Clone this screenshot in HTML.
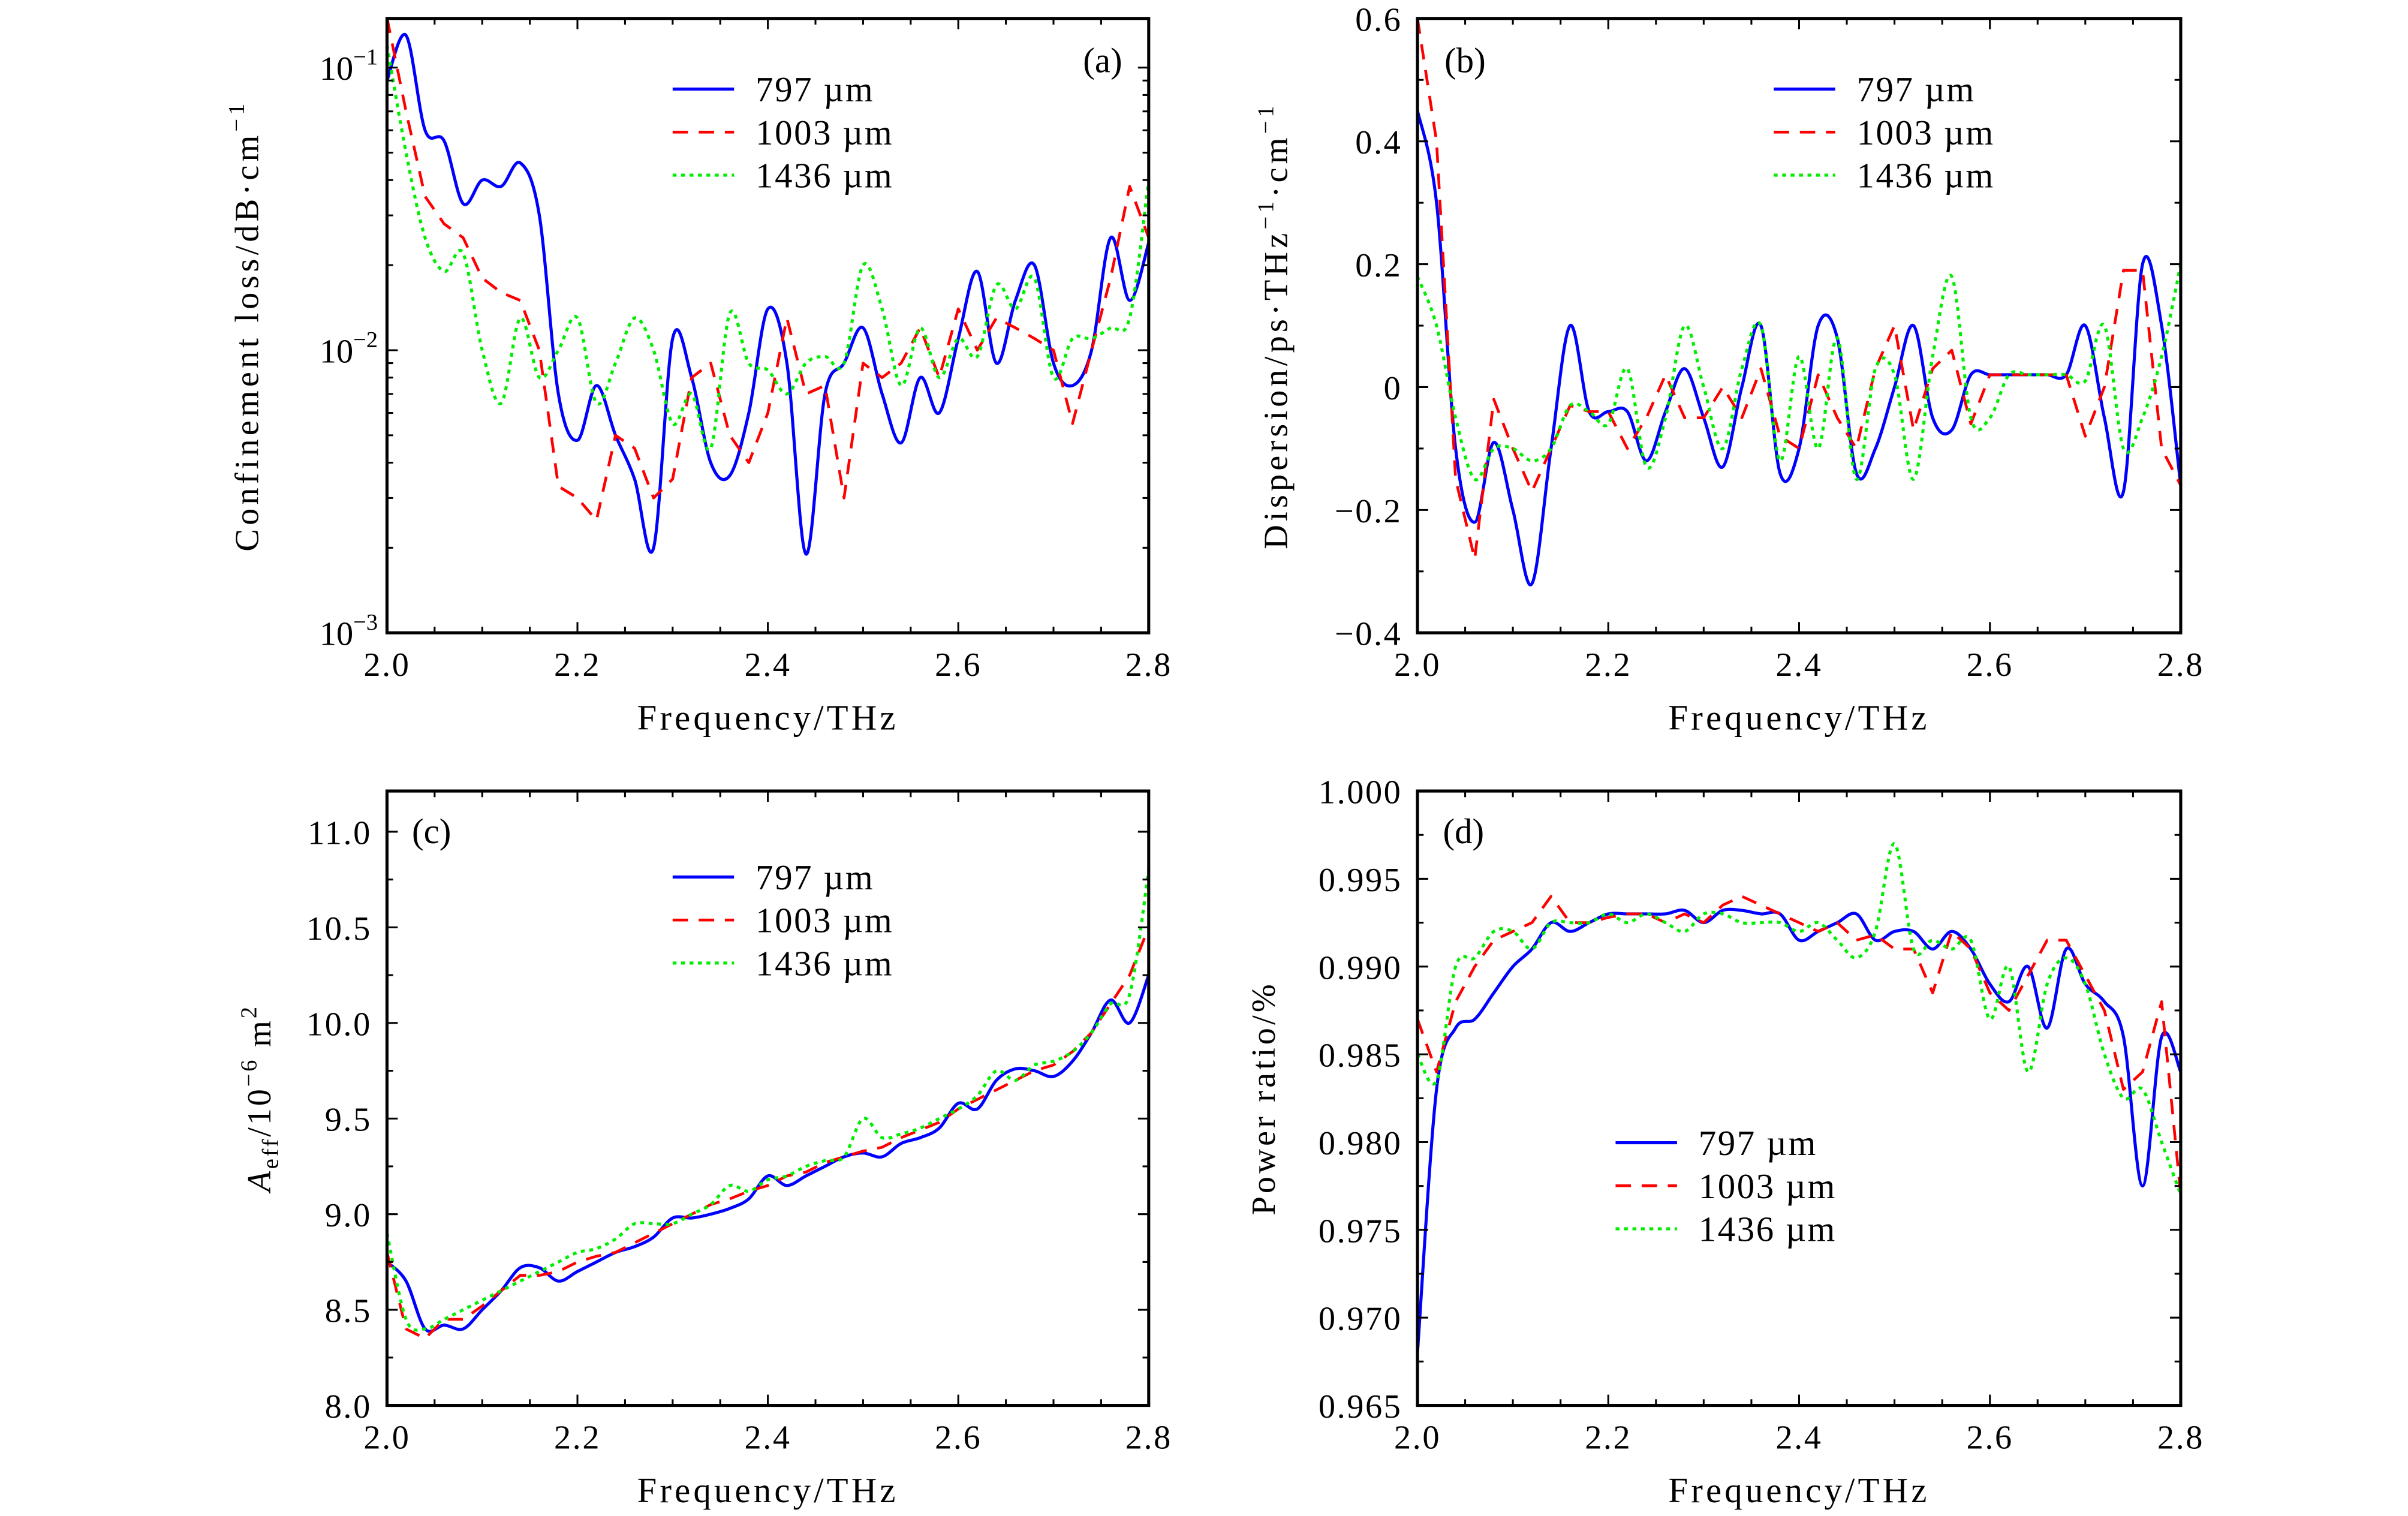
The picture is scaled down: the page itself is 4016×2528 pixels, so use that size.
<!DOCTYPE html>
<html><head><meta charset="utf-8">
<style>
html,body{margin:0;padding:0;background:#fff;}
svg{display:block;font-family:"Liberation Serif","DejaVu Serif",serif;}
</style></head>
<body>
<svg id="fig" xmlns="http://www.w3.org/2000/svg" width="4016" height="2528" viewBox="0 0 1568 987"></svg>
<script>
const freqs = [2.00,2.02,2.04,2.06,2.08,2.10,2.12,2.14,2.16,2.18,2.20,2.22,2.24,2.26,2.28,2.30,2.32,2.34,2.36,2.38,2.40,2.42,2.44,2.46,2.48,2.50,2.52,2.54,2.56,2.58,2.60,2.62,2.64,2.66,2.68,2.70,2.72,2.74,2.76,2.78,2.80];
const seriesNames = ["797 µm","1003 µm","1436 µm"];
const xTicks = [2.0,2.2,2.4,2.6,2.8];
const lossBlue = [0.09,0.13,0.06,0.055,0.033,0.04,0.038,0.046,0.03,0.007,0.0048,0.0075,0.005,0.0035,0.002,0.011,0.008,0.004,0.0036,0.006,0.014,0.009,0.0019,0.007,0.009,0.012,0.007,0.0047,0.008,0.006,0.011,0.019,0.009,0.015,0.02,0.009,0.0075,0.01,0.025,0.015,0.024];
const lossRed = [0.15,0.07,0.035,0.028,0.025,0.018,0.016,0.015,0.01,0.0033,0.003,0.0025,0.005,0.0045,0.003,0.0035,0.008,0.009,0.005,0.004,0.006,0.013,0.007,0.0075,0.003,0.009,0.008,0.009,0.012,0.008,0.014,0.01,0.013,0.012,0.011,0.01,0.0055,0.01,0.018,0.038,0.025];
const lossGreen = [0.12,0.05,0.025,0.019,0.022,0.01,0.0065,0.013,0.008,0.01,0.013,0.0065,0.009,0.013,0.01,0.0055,0.007,0.0045,0.0135,0.009,0.0085,0.007,0.009,0.0095,0.009,0.02,0.014,0.0075,0.012,0.008,0.011,0.0095,0.017,0.014,0.018,0.008,0.011,0.011,0.012,0.013,0.04];
const dispBlue = [0.45,0.3,-0.1,-0.22,-0.09,-0.2,-0.32,-0.1,0.1,-0.04,-0.04,-0.04,-0.12,-0.04,0.03,-0.05,-0.13,0.0,0.1,-0.14,-0.1,0.1,0.08,-0.14,-0.1,0.0,0.1,-0.05,-0.07,0.02,0.02,0.02,0.02,0.02,0.02,0.1,-0.05,-0.17,0.2,0.1,-0.16];
const dispRed = [0.6,0.4,-0.15,-0.28,-0.02,-0.1,-0.17,-0.1,-0.03,-0.04,-0.04,-0.1,-0.05,0.02,-0.05,-0.05,0.0,-0.05,0.03,-0.08,-0.1,0.02,-0.05,-0.1,0.03,0.1,-0.07,0.03,0.06,-0.06,0.02,0.02,0.02,0.02,0.02,-0.08,0.0,0.19,0.19,-0.1,-0.16];
const dispGreen = [0.18,0.1,-0.05,-0.15,-0.1,-0.1,-0.12,-0.1,-0.03,-0.04,-0.06,0.03,-0.13,-0.05,0.1,0.0,-0.1,0.03,0.1,-0.12,0.05,-0.1,0.08,-0.15,0.03,0.02,-0.15,0.05,0.18,-0.05,-0.05,0.02,0.02,0.02,0.02,0.01,0.1,-0.1,-0.05,0.05,0.2];
const aeffBlue = [8.75,8.65,8.4,8.42,8.4,8.5,8.6,8.72,8.72,8.65,8.7,8.75,8.8,8.83,8.88,8.98,8.98,9.0,9.03,9.08,9.2,9.15,9.2,9.25,9.3,9.32,9.3,9.37,9.4,9.45,9.58,9.55,9.7,9.76,9.75,9.72,9.8,9.95,10.12,10.0,10.25];
const aeffRed = [8.8,8.4,8.35,8.45,8.45,8.52,8.6,8.68,8.68,8.7,8.75,8.78,8.8,8.85,8.9,8.95,9.0,9.05,9.08,9.12,9.15,9.2,9.22,9.27,9.3,9.33,9.35,9.4,9.44,9.48,9.55,9.6,9.65,9.7,9.75,9.78,9.85,9.95,10.1,10.25,10.5];
const aeffGreen = [8.9,8.45,8.4,8.45,8.5,8.55,8.6,8.65,8.7,8.75,8.8,8.82,8.87,8.95,8.95,8.95,9.0,9.05,9.15,9.12,9.18,9.2,9.25,9.28,9.3,9.5,9.4,9.42,9.45,9.5,9.55,9.62,9.75,9.7,9.78,9.8,9.85,9.95,10.1,10.15,10.8];
const powBlue = [0.968,0.983,0.9865,0.987,0.9885,0.990,0.991,0.9925,0.992,0.9925,0.993,0.993,0.993,0.993,0.9932,0.9925,0.9932,0.9932,0.993,0.993,0.9915,0.992,0.9925,0.993,0.9915,0.992,0.992,0.991,0.992,0.991,0.989,0.988,0.990,0.9865,0.991,0.989,0.988,0.986,0.9775,0.986,0.984];
const powRed = [0.987,0.984,0.988,0.990,0.9915,0.992,0.9925,0.994,0.9925,0.9925,0.9928,0.993,0.993,0.9925,0.993,0.9925,0.9935,0.994,0.9935,0.993,0.9925,0.992,0.9925,0.9915,0.9918,0.991,0.991,0.9885,0.992,0.991,0.9885,0.9875,0.9895,0.9915,0.9915,0.9895,0.9875,0.983,0.984,0.988,0.977];
const powGreen = [0.985,0.9835,0.990,0.9905,0.992,0.992,0.991,0.9925,0.9925,0.9925,0.993,0.9925,0.993,0.9925,0.992,0.993,0.993,0.9925,0.9925,0.9925,0.992,0.9925,0.9915,0.9905,0.992,0.997,0.991,0.9915,0.991,0.9915,0.987,0.990,0.984,0.989,0.9905,0.989,0.985,0.9825,0.983,0.980,0.977];
const dispTicks = [-0.4,-0.2,0,0.2,0.4,0.6];
const dispTickLabels = ["\u22120.4","\u22120.2","0","0.2","0.4","0.6"];
const aeffTicks = [8.0,8.5,9.0,9.5,10.0,10.5,11.0];
const powTicks = [0.965,0.970,0.975,0.980,0.985,0.990,0.995,1.000];

const NS="http://www.w3.org/2000/svg";
const svg=document.getElementById('fig');
function mk(tag,attrs,parent){const e=document.createElementNS(NS,tag);for(const k in attrs)e.setAttribute(k,attrs[k]);(parent||svg).appendChild(e);return e;}
function txt(s,attrs,parent){const e=mk('text',attrs,parent);e.textContent=s;return e;}

function smoothPath(pts){
  let d='M'+pts[0][0].toFixed(2)+','+pts[0][1].toFixed(2);
  for(let i=0;i<pts.length-1;i++){
    const p0=pts[Math.max(0,i-1)],p1=pts[i],p2=pts[i+1],p3=pts[Math.min(pts.length-1,i+2)];
    const c1=[p1[0]+(p2[0]-p0[0])/6,p1[1]+(p2[1]-p0[1])/6];
    const c2=[p2[0]-(p3[0]-p1[0])/6,p2[1]-(p3[1]-p1[1])/6];
    d+='C'+c1[0].toFixed(2)+','+c1[1].toFixed(2)+' '+c2[0].toFixed(2)+','+c2[1].toFixed(2)+' '+p2[0].toFixed(2)+','+p2[1].toFixed(2);
  }
  return d;
}

function panel(cfg){
  const g=mk('g',{});
  
  
  const L=cfg.x0,R=cfg.x1,T=cfg.y0,B=cfg.y1;
  const xs=v=>L+(v-2.0)/(0.8)*(R-L);
  const ys=v=>{const t=cfg.log?Math.log10(v):v;return B-(t-cfg.ymin)/(cfg.ymax-cfg.ymin)*(B-T);};
  const clip='clip-'+cfg.name;
  const cp=mk('clipPath',{id:clip},g);mk('rect',{x:L,y:T,width:R-L,height:B-T},cp);
  const styles=[
    {stroke:'#0000ff',w:2,dash:'',smooth:true,name:'series-797'},
    {stroke:'#ff0000',w:1.8,dash:'10,7',smooth:false,name:'series-1003'},
    {stroke:'#00ee00',w:2,dash:'2.5,3',smooth:true,name:'series-1436'}];
  const sg=mk('g',{'clip-path':'url(#'+clip+')'},g);
  cfg.series.forEach((arr,i)=>{
    const pts=freqs.map((f,j)=>[xs(f),ys(arr[j])]);
    const st=styles[i];
    const d=st.smooth?smoothPath(pts):'M'+pts.map(p=>p[0].toFixed(2)+','+p[1].toFixed(2)).join('L');
    const p=mk('path',{d:d,fill:'none',stroke:st.stroke,'stroke-width':st.w,'stroke-dasharray':st.dash,'stroke-linejoin':'round'},sg);
    
    
  });
  const fr=mk('rect',{x:L,y:T,width:R-L,height:B-T,fill:'none',stroke:'#000','stroke-width':2},g);
  
  
  for(let v=2.0;v<=2.8001;v+=0.05){
    const major=Math.abs((v*10)-Math.round(v*10))<1e-6 && Math.round(v*10)%2===0;
    const len=major?7:4;
    mk('line',{x1:xs(v),x2:xs(v),y1:B,y2:B-len,stroke:'#000','stroke-width':1.2},g);
    mk('line',{x1:xs(v),x2:xs(v),y1:T,y2:T+len,stroke:'#000','stroke-width':1.2},g);
  }
  xTicks.forEach(v=>{
    const t=txt(v.toFixed(1),{x:xs(v),y:B+28,'font-size':22,'letter-spacing':1,'text-anchor':'middle'},g);
    
    
  });
  if(cfg.log){
    for(let e=-3;e<=-1;e++){
      for(let m=1;m<10;m++){
        const v=m*Math.pow(10,e);const y=ys(v);if(y<T-0.5)continue;
        const len=m===1?7:4;
        mk('line',{x1:L,x2:L+len,y1:y,y2:y,stroke:'#000','stroke-width':1.2},g);
        mk('line',{x1:R,x2:R-len,y1:y,y2:y,stroke:'#000','stroke-width':1.2},g);
      }
      const t=mk('text',{x:L-6,y:ys(Math.pow(10,e))+8,'font-size':22,'text-anchor':'end'},g);
      
      
      t.textContent='10';
      const sp=mk('tspan',{dy:-10,'font-size':15},t);sp.textContent='\u2212'+(-e);
    }
  } else {
    cfg.ticks.forEach((v,i)=>{
      const y=ys(v);
      mk('line',{x1:L,x2:L+7,y1:y,y2:y,stroke:'#000','stroke-width':1.2},g);
      mk('line',{x1:R,x2:R-7,y1:y,y2:y,stroke:'#000','stroke-width':1.2},g);
      if(i<cfg.ticks.length-1){const v2=(v+cfg.ticks[i+1])/2,y2=ys(v2);
        mk('line',{x1:L,x2:L+4,y1:y2,y2:y2,stroke:'#000','stroke-width':1.2},g);
        mk('line',{x1:R,x2:R-4,y1:y2,y2:y2,stroke:'#000','stroke-width':1.2},g);}
      const t=txt(cfg.tickLabels[i],{x:L-10,y:y+8,'font-size':22,'letter-spacing':1,'text-anchor':'end'},g);
      
      
    });
  }
  const xt=txt('Frequency/THz',{x:(L+R)/2,y:B+63,'font-size':23,'letter-spacing':2,'text-anchor':'middle'},g);
  
  
  const yt=mk('text',{x:0,y:0,'font-size':22,'letter-spacing':cfg.yls,'text-anchor':'middle',transform:'translate('+cfg.ytx+','+cfg.yty+') rotate(-90)'},g);
  
  
  cfg.ytitle(yt);
  const pl=txt(cfg.label,{x:cfg.lx,y:cfg.ly,'font-size':23,'text-anchor':'middle'},g);
  
  
  const lg=mk('g',{},g);
  
  
  seriesNames.forEach((n,i)=>{
    const y=cfg.legY+i*28;const st=styles[i];
    mk('line',{x1:cfg.legX,x2:cfg.legX+40,y1:y,y2:y,stroke:st.stroke,'stroke-width':st.w,'stroke-dasharray':st.dash},lg);
    const t=txt(n,{x:cfg.legX+54,y:y+8,'font-size':23,'letter-spacing':1},lg);
    
    
  });
}
function addT(parent,s,attrs){const sp=mk('tspan',attrs||{},parent);sp.textContent=s;return sp;}

panel({name:'panel-a-confinement-loss',x0:252,x1:748,y0:12,y1:412,log:true,ymin:-3,ymax:-1+32/184,
  series:[lossBlue,lossRed,lossGreen],ytx:168,yty:212,yls:2.4,
  ytitle:t=>{addT(t,'Confinement loss/dB\u00b7cm');addT(t,'\u22121',{dy:-9,'font-size':15});},
  label:'(a)',lx:718,ly:47,legX:438,legY:58});
panel({name:'panel-b-dispersion',x0:923,x1:1420,y0:12,y1:412,ymin:-0.4,ymax:0.6,ticks:dispTicks,tickLabels:dispTickLabels,
  series:[dispBlue,dispRed,dispGreen],ytx:838,yty:212,yls:2.4,
  ytitle:t=>{addT(t,'Dispersion/ps\u00b7THz');addT(t,'\u22121',{dy:-9,'font-size':15});addT(t,'\u00b7cm',{dy:9});addT(t,'\u22121',{dy:-9,'font-size':15});},
  label:'(b)',lx:954,ly:47,legX:1155,legY:58});
panel({name:'panel-c-effective-area',x0:252,x1:748,y0:515,y1:915,ymin:8.0,ymax:8.0+400/124.5,ticks:aeffTicks,tickLabels:aeffTicks.map(v=>v.toFixed(1)),
  series:[aeffBlue,aeffRed,aeffGreen],ytx:176,yty:715,yls:1.5,
  ytitle:t=>{addT(t,'A',{'font-style':'italic'});addT(t,'eff',{dy:5,'font-size':15});addT(t,'/10',{dy:-5});addT(t,'\u22126',{dy:-9,'font-size':15});addT(t,' m',{dy:9});addT(t,'2',{dy:-9,'font-size':15});},
  label:'(c)',lx:281,ly:549,legX:438,legY:571});
panel({name:'panel-d-power-ratio',x0:923,x1:1420,y0:515,y1:915,ymin:0.965,ymax:1.0,ticks:powTicks,tickLabels:powTicks.map(v=>v.toFixed(3)),
  series:[powBlue,powRed,powGreen],ytx:830,yty:715,yls:2,
  ytitle:t=>{addT(t,'Power ratio/%');},
  label:'(d)',lx:953,ly:549,legX:1052,legY:744});
</script>
</body></html>
